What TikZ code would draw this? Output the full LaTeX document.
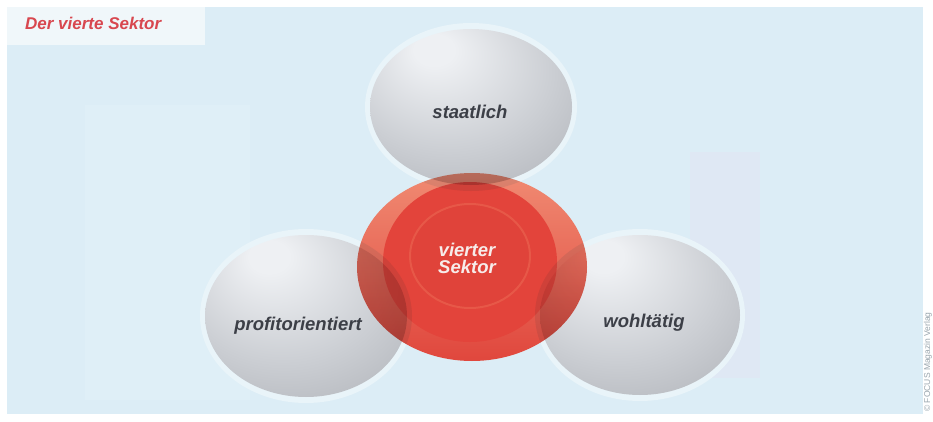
\documentclass[tikz,border=0pt]{standalone}
\usepackage{fontspec}
\newfontfamily\labfont{Liberation Sans}
\usetikzlibrary{shapes.geometric}
\definecolor{bgblue}{HTML}{DCEDF6}
\definecolor{titlebox}{HTML}{F0F7FA}
\definecolor{titlered}{HTML}{D8474F}
\definecolor{sphA}{HTML}{EEF0F3}
\definecolor{sphB}{HTML}{CBCED3}
\definecolor{sphC}{HTML}{A4A7AD}
\definecolor{labgrey}{HTML}{3C3F47}
\definecolor{halocol}{HTML}{E9F4F9}
\definecolor{redtop}{HTML}{F08A72}
\definecolor{redmidc}{HTML}{E85C4A}
\definecolor{redbot}{HTML}{E0473D}
\definecolor{redmid}{HTML}{E3443B}
\definecolor{redin}{HTML}{E0433A}
\definecolor{redring}{HTML}{E75848}
\definecolor{vtext}{HTML}{F7ECEA}
\definecolor{copyg}{HTML}{9AA6AE}
\definecolor{faintpink}{HTML}{DFE8F4}
\definecolor{faintlight}{HTML}{DFEFF7}
\pgfdeclareradialshading{spherebody}{\pgfpoint{-10bp}{20bp}}{color(0bp)=(sphA); color(5bp)=(sphA); color(26bp)=(sphB); color(50bp)=(sphC); color(60bp)=(sphC)}
\begin{document}
\begin{tikzpicture}[x=1pt,y=-1pt,
  ball/.style={ellipse, inner sep=0pt, shading=spherebody},
  halo/.style={ellipse, inner sep=0pt, fill=halocol},
  redbase/.style={ellipse, inner sep=0pt, minimum width=230pt, minimum height=188pt},
  lab/.style={font=\labfont\bfseries\itshape\fontsize{18.5}{17}\selectfont, text=labgrey, inner sep=0pt},
]
\useasboundingbox (0,0) rectangle (933,422);
\fill[white] (0,0) rectangle (933,422);
\fill[bgblue] (7,7) rectangle (923,414);
\fill[faintlight] (85,105) rectangle (250,400);
\fill[faintpink] (690,152) rectangle (760,378);
\fill[titlebox] (7,7) rectangle (205,45);
\node[anchor=base west, font=\labfont\bfseries\itshape\fontsize{17}{17}\selectfont, text=titlered, inner sep=0pt] (title) at (25,30) {Der vierte Sektor};
% white underlay for the red disc
\node[redbase, fill=white] (vbase) at (472,267) {};
% halos
\node[halo, minimum width=212pt, minimum height=168pt] (hs) at (471,107) {};
\node[halo, minimum width=212pt, minimum height=174pt] (hp) at (306,316) {};
\node[halo, minimum width=210pt, minimum height=172pt] (hw) at (640,315) {};
% spheres
\node[ball, minimum width=202pt, minimum height=156pt] (s) at (471,107) {};
\node[ball, minimum width=202pt, minimum height=162pt] (p) at (306,316) {};
\node[ball, minimum width=200pt, minimum height=160pt] (w) at (640,315) {};
% red centre, composited onto the spheres by multiplication
\begin{scope}[blend mode=multiply]
\begin{scope}[transparency group]
\node[redbase, top color=redtop, middle color=redmidc, bottom color=redbot] (v) at (472,267) {};
\node[ellipse, inner sep=0pt, minimum width=174pt, minimum height=160pt, fill=redmid] (vm) at (470,262) {};
\node[ellipse, inner sep=0pt, minimum width=120pt, minimum height=104pt, fill=redin, draw=redring, line width=2pt] (vi) at (470,256) {};
\end{scope}
\end{scope}
% labels
\node[lab] (ts) at (470,112) {staatlich};
\node[lab] (tp) at (298,326) {profitorientiert};
\node[lab] (tw) at (644,323) {wohltätig};
\node[lab, text=vtext, align=center] (tv) at (467,258) {vierter\\Sektor};
\node[rotate=90, font=\labfont\fontsize{8.5}{8.5}\selectfont, text=copyg, inner sep=0pt] (copy) at (928,362) {© FOCUS Magazin Verlag};
\end{tikzpicture}
\end{document}
